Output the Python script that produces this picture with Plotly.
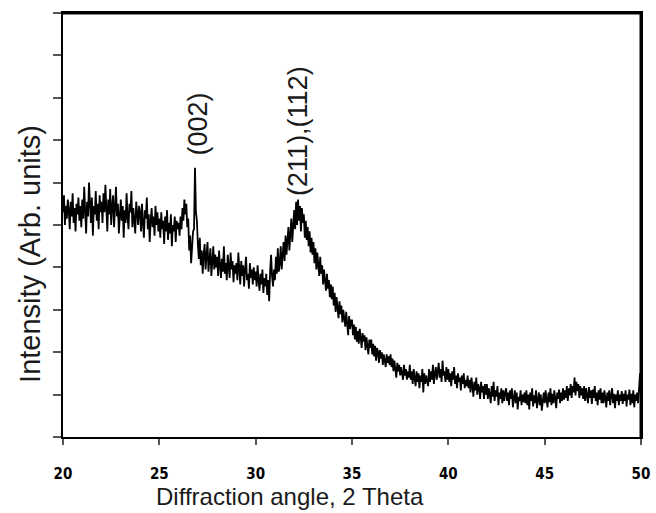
import plotly.graph_objects as go

# 2-theta grid, 20.00 .. 50.00 in 0.05 steps (601 points)
two_theta = [round(20 + 0.05 * i, 2) for i in range(601)]

# Intensity (arb. units), one row (20 points) per degree
intensity = (
    [5.30, 5.70, 5.00, 5.45, 5.15, 5.60, 5.35, 4.90, 5.55, 5.20, 5.75, 5.05, 5.40, 4.85, 5.50, 5.25, 5.65, 5.10, 5.45, 4.95] +  # 20
    [5.60, 5.15, 5.90, 5.30, 4.80, 5.55, 5.20, 6.00, 5.35, 5.05, 5.65, 4.75, 5.45, 5.25, 5.80, 5.10, 5.50, 4.90, 5.70, 5.30] +  # 21
    [5.55, 5.05, 5.75, 5.30, 5.95, 5.15, 4.85, 5.60, 5.25, 5.85, 5.00, 5.45, 5.70, 4.95, 5.35, 5.90, 5.20, 5.50, 4.80, 5.40] +  # 22
    [5.60, 5.10, 5.45, 4.70, 5.35, 5.05, 5.75, 5.20, 4.90, 5.50, 5.30, 5.80, 4.95, 5.40, 5.15, 4.80, 5.55, 5.25, 5.00, 5.45] +  # 23
    [5.30, 4.85, 5.50, 5.05, 4.70, 5.35, 5.15, 5.65, 4.90, 5.25, 4.60, 5.10, 5.40, 4.95, 5.20, 4.75, 5.45, 5.00, 5.30, 4.85] +  # 24
    [5.15, 4.70, 5.30, 4.90, 5.10, 4.55, 5.20, 4.85, 5.35, 4.65, 5.05, 4.80, 5.25, 4.50, 5.00, 4.85, 5.20, 4.60, 5.10, 4.90] +  # 25
    [5.05, 4.75, 5.20, 4.90, 5.40, 5.10, 5.60, 5.25, 5.50, 4.95, 5.15, 4.40, 4.75, 4.10, 4.50, 4.85, 4.90, 6.35, 5.30, 5.10] +  # 26
    [4.55, 4.20, 4.70, 4.05, 4.40, 3.85, 4.30, 4.55, 3.95, 4.25, 4.60, 3.90, 4.15, 4.45, 3.80, 4.20, 4.50, 3.95, 4.30, 4.00] +  # 27
    [4.25, 3.80, 4.40, 4.05, 3.75, 4.20, 3.90, 4.50, 3.85, 4.10, 3.70, 4.30, 4.00, 3.75, 4.35, 3.95, 4.15, 3.65, 4.05, 3.85] +  # 28
    [4.10, 3.70, 4.35, 3.90, 3.60, 4.15, 3.80, 4.05, 3.55, 3.95, 4.25, 3.70, 3.85, 3.50, 4.10, 3.75, 3.95, 3.60, 4.00, 3.70] +  # 29
    [3.90, 3.55, 4.05, 3.70, 3.45, 3.85, 3.60, 3.95, 3.40, 3.75, 3.55, 3.85, 3.35, 3.70, 3.20, 3.90, 4.30, 3.80, 3.55, 3.95] +  # 30
    [3.70, 4.25, 3.85, 4.45, 3.90, 4.10, 4.50, 3.95, 4.35, 4.60, 4.15, 4.75, 4.30, 4.55, 4.95, 4.40, 4.80, 5.15, 4.60, 5.05] +  # 31
    [5.35, 4.90, 5.55, 5.00, 5.60, 5.10, 5.45, 4.85, 5.40, 5.05, 5.25, 4.70, 5.10, 4.65, 4.95, 4.50, 4.85, 4.35, 4.70, 4.30] +  # 32
    [4.60, 4.10, 4.45, 3.95, 4.35, 4.05, 3.80, 4.25, 3.85, 4.05, 3.60, 3.95, 3.70, 3.45, 3.85, 3.50, 3.70, 3.30, 3.60, 3.25] +  # 33
    [3.55, 3.10, 3.40, 2.95, 3.30, 3.05, 2.80, 3.20, 2.90, 3.10, 2.70, 3.00, 2.85, 2.60, 2.95, 2.70, 2.40, 2.85, 2.55, 2.75] +  # 34
    [2.75, 2.40, 2.65, 2.30, 2.60, 2.25, 2.50, 2.20, 2.55, 2.35, 2.10, 2.45, 2.25, 2.40, 2.05, 2.35, 2.15, 1.95, 2.30, 2.10] +  # 35
    [2.30, 1.95, 2.20, 1.90, 2.15, 1.80, 2.10, 2.00, 1.75, 2.05, 1.85, 2.00, 1.70, 1.95, 1.80, 1.65, 1.95, 1.75, 1.90, 1.70] +  # 36
    [1.95, 1.65, 1.85, 1.55, 1.80, 1.60, 1.40, 1.75, 1.55, 1.70, 1.45, 1.65, 1.50, 1.35, 1.70, 1.45, 1.60, 1.35, 1.55, 1.40] +  # 37
    [1.70, 1.35, 1.55, 1.25, 1.60, 1.40, 1.20, 1.55, 1.30, 1.50, 1.15, 1.45, 1.30, 1.60, 1.05, 1.50, 1.25, 1.45, 1.35, 1.20] +  # 38
    [1.60, 1.30, 1.55, 1.35, 1.70, 1.25, 1.50, 1.65, 1.35, 1.55, 1.75, 1.40, 1.60, 1.30, 1.80, 1.45, 1.55, 1.30, 1.65, 1.35] +  # 39
    [1.60, 1.30, 1.50, 1.20, 1.55, 1.35, 1.65, 1.25, 1.45, 1.15, 1.50, 1.30, 1.40, 1.10, 1.45, 1.25, 1.50, 1.15, 1.35, 1.20] +  # 40
    [1.45, 1.15, 1.35, 1.05, 1.40, 1.20, 0.95, 1.30, 1.10, 1.40, 1.00, 1.25, 1.15, 0.90, 1.30, 1.05, 1.20, 0.90, 1.25, 1.00] +  # 41
    [1.25, 0.90, 1.15, 1.00, 0.80, 1.20, 0.95, 1.30, 0.85, 1.10, 0.95, 1.20, 0.75, 1.05, 0.90, 1.15, 0.80, 1.10, 0.85, 1.05] +  # 42
    [1.15, 0.85, 1.05, 0.75, 1.10, 0.90, 1.15, 0.70, 0.95, 1.10, 0.80, 1.05, 0.65, 0.95, 0.85, 1.10, 0.75, 1.00, 0.82, 1.05] +  # 43
    [0.80, 1.10, 0.75, 1.00, 0.65, 1.05, 0.85, 1.15, 0.72, 0.98, 0.80, 1.10, 0.68, 0.95, 1.05, 0.75, 1.00, 0.62, 0.92, 1.05] +  # 44
    [0.80, 1.10, 0.88, 0.70, 1.05, 0.82, 1.15, 0.75, 1.02, 0.80, 1.10, 0.88, 0.68, 1.05, 0.90, 1.12, 0.80, 1.05, 0.85, 1.15] +  # 45
    [0.88, 1.10, 0.92, 1.20, 0.85, 1.15, 0.98, 1.25, 0.92, 1.20, 1.05, 1.40, 0.98, 1.30, 1.08, 1.25, 0.92, 1.20, 0.98, 1.15] +  # 46
    [0.90, 1.20, 0.85, 1.15, 0.98, 0.80, 1.18, 0.92, 1.10, 0.78, 1.12, 0.92, 1.20, 0.85, 1.05, 0.75, 1.10, 0.88, 1.15, 0.80] +  # 47
    [1.05, 0.80, 1.10, 0.88, 0.70, 1.05, 0.85, 1.10, 0.75, 0.98, 1.15, 0.80, 1.02, 0.68, 1.00, 0.85, 1.10, 0.75, 1.00, 0.85] +  # 48
    [1.08, 0.78, 1.02, 0.85, 1.10, 0.72, 1.00, 0.88, 1.12, 0.75, 1.02, 0.80, 1.10, 0.70, 1.00, 0.85, 1.05, 0.80, 1.20, 1.50] +  # 49
    [0.95]                                                                                                                       # 50
)

peak_labels = ["(002)", "(211),(112)"]
peak_x = [27.0, 32.2]
peak_label_y = [6.6, 5.64]

x_ticks = [20, 25, 30, 35, 40, 45, 50]
x_title = "Diffraction angle, 2 Theta"
y_title = "Intensity (Arb. units)"

title_font = dict(family="Arial, Liberation Sans, sans-serif", color="#1a1a1a")

fig = go.Figure()
fig.add_trace(go.Scatter(
    x=two_theta, y=intensity, mode="lines",
    line=dict(color="black", width=1.8),
    showlegend=False, hoverinfo="skip",
))

for lab, px, py in zip(peak_labels, peak_x, peak_label_y):
    fig.add_annotation(
        x=px, y=py, text=lab, textangle=-90, showarrow=False,
        xanchor="center", yanchor="bottom",
        font=dict(size=27, **title_font),
    )

# axis titles (offset from the plot centre as in the original)
fig.add_annotation(x=0.393, y=-0.1415, xref="paper", yref="paper", text=x_title,
                   showarrow=False, xanchor="center", yanchor="middle",
                   font=dict(size=24, **title_font))
fig.add_annotation(x=-0.057, y=0.432, xref="paper", yref="paper", text=y_title,
                   textangle=-90, showarrow=False, xanchor="center", yanchor="middle",
                   font=dict(size=29, **title_font))

# heavier top/right frame
fig.add_shape(type="line", xref="paper", yref="paper", x0=0, x1=1, y0=1, y1=1,
              line=dict(color="black", width=3))
fig.add_shape(type="line", xref="paper", yref="paper", x0=1, x1=1, y0=0, y1=1,
              line=dict(color="black", width=3))

fig.update_layout(
    width=656, height=513,
    margin=dict(l=63, r=15, t=13, b=76, autoexpand=False),
    paper_bgcolor="white", plot_bgcolor="white",
    xaxis=dict(
        range=[20, 50], tickvals=x_ticks, ticktext=[str(t) for t in x_ticks],
        ticks="outside", ticklen=6, tickwidth=1.5, tickcolor="#555",
        ticklabelstandoff=16, automargin=False,
        showline=True, linecolor="black", linewidth=2, mirror=True,
        showgrid=False, zeroline=False,
        tickfont=dict(family="DejaVu Sans Condensed, DejaVu Sans, sans-serif", size=15,
                      color="black", weight="bold"),
    ),
    yaxis=dict(
        range=[0, 10], dtick=1, tick0=0, showticklabels=False,
        ticks="outside", ticklen=8, tickwidth=1.5, tickcolor="#555",
        automargin=False,
        showline=True, linecolor="black", linewidth=2, mirror=True,
        showgrid=False, zeroline=False,
    ),
)

fig.write_html("out.html",
               config={"displayModeBar": False},
               post_script="document.body.style.margin='0';document.body.style.overflow='hidden';")
